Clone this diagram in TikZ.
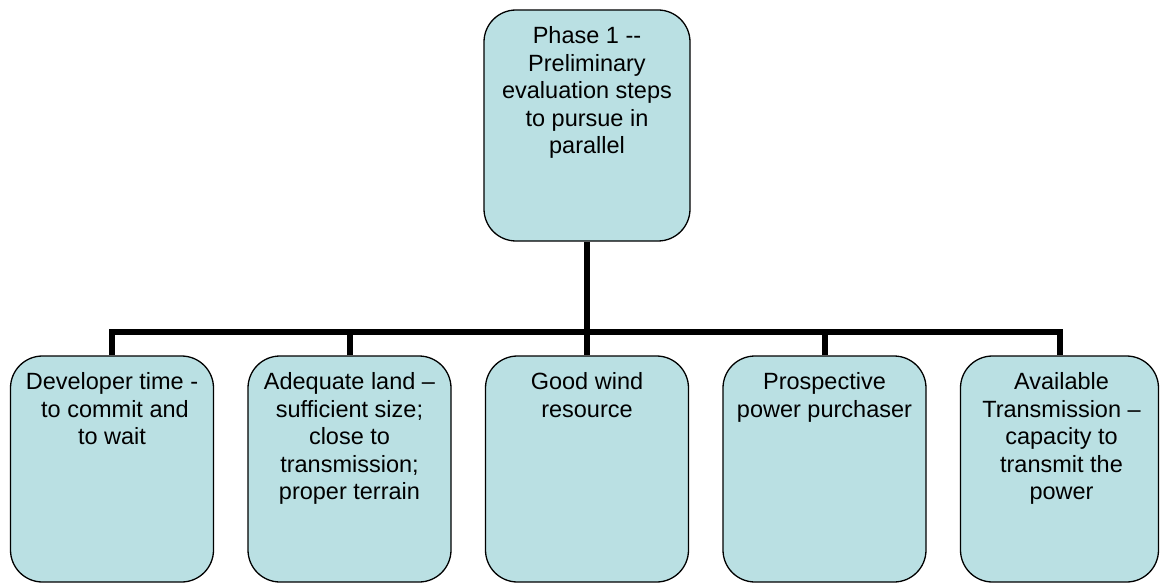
\documentclass[tikz,border=0pt]{standalone}
\usepackage{fontspec}
\setmainfont{Liberation Sans}
\begin{document}
\begin{tikzpicture}[x=1pt,y=-1pt,
  box/.style={draw=black,line width=1.3pt,fill=boxfill,rounded corners=32pt,
    rectangle,inner sep=0pt,minimum width=203pt},
  label/.style={anchor=north,inner sep=0pt,align=center,
    font=\fontsize{23.5}{27.5}\selectfont},
  conn/.style={line width=6pt,line join=miter,line cap=butt}]
\definecolor{boxfill}{RGB}{186,224,227}
\useasboundingbox (0,0) rectangle (1160,583);
% top node
\node[box,minimum width=206pt,minimum height=231pt] (top) at (587,125.5) {};
% second level
\node[box,minimum height=226pt] (b1) at (112,469) {};
\node[box,minimum height=226pt] (b2) at (349.5,469) {};
\node[box,minimum height=226pt] (b3) at (587,469) {};
\node[box,minimum height=226pt] (b4) at (824.5,469) {};
\node[box,minimum width=198pt,minimum height=226pt] (b5) at (1059.5,469) {};
% texts
\node[label] (ttop) at ([yshift=-17pt]top.north) {Phase 1 {-}{-}\\Preliminary\\evaluation steps\\to pursue in\\parallel};
\node[label] (t1) at ([yshift=-17pt]b1.north) {Developer time -\\\hspace{6pt}to commit and\\to wait};
\node[label] (t2) at ([yshift=-17pt]b2.north) {Adequate land –\\sufficient size;\\close to\\transmission;\\proper terrain};
\node[label] (t3) at ([yshift=-17pt]b3.north) {Good wind\\resource};
\node[label] (t4) at ([yshift=-17pt]b4.north) {Prospective\\power purchaser};
\node[label] (t5) at ([xshift=2pt,yshift=-17pt]b5.north) {Available\\Transmission –\\capacity to\\transmit the\\power};
% connectors
\coordinate (bar) at (587,332);
\draw[conn] (top.south) -- (b3.north);
\draw[conn] (b1.north) |- (bar) -| (b5.north);
\draw[conn] (b2.north) -- (b2.north |- bar);
\draw[conn] (b4.north) -- (b4.north |- bar);
\end{tikzpicture}
\end{document}
